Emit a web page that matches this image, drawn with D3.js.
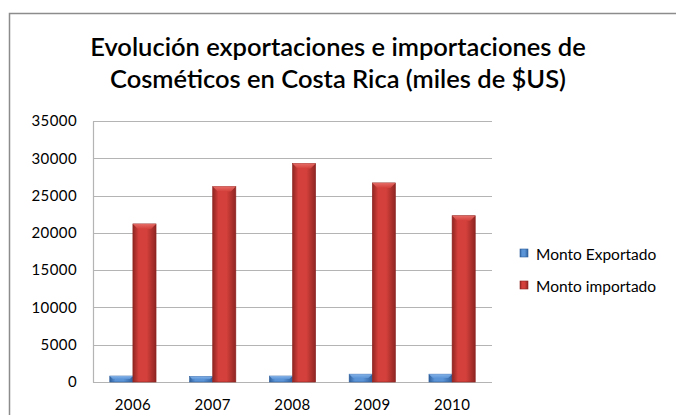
<!DOCTYPE html>
<html>
<head>
<meta charset="utf-8">
<style>
  body { margin: 0; background: #fff; }
  svg text { font-family: Lato, "Open Sans", sans-serif; fill: #000; }
</style>
<title>Cosméticos Costa Rica</title>
</head>
<body>
<script src="https://cdn.jsdelivr.net/npm/d3@7/dist/d3.min.js"></script>
<script>
  // data
  var years = ["2006", "2007", "2008", "2009", "2010"];
  var series = ["Monto Exportado", "Monto importado"];
  var exportado = [800, 750, 800, 1050, 1050];
  var importado = [21200, 26200, 29300, 26700, 22300];
  var yTicks = [0, 5000, 10000, 15000, 20000, 25000, 30000, 35000];
  var titleLines = ["Evolución exportaciones e importaciones de", "Cosméticos en Costa Rica (miles de $US)"];

  var width = 676, height = 415;
  var plot = {left: 93, right: 492, top: 121, bottom: 382};

  var svg = d3.select("body").append("svg")
    .attr("width", width)
    .attr("height", height);

  // gradients for the bevelled bars
  var defs = svg.append("defs");
  var colors = [
    {id: "g0", dark: "#2f5f9c", mid: "#5b95d8", light: "#8ab6ea"},
    {id: "g1", dark: "#8e2522", mid: "#d4403b", light: "#e8706b"}
  ];
  colors.forEach(function (c) {
    var g = defs.append("linearGradient").attr("id", c.id).attr("x1", 0).attr("x2", 1).attr("y1", 0).attr("y2", 0);
    g.append("stop").attr("offset", "0%").attr("stop-color", c.dark);
    g.append("stop").attr("offset", "25%").attr("stop-color", c.mid);
    g.append("stop").attr("offset", "60%").attr("stop-color", c.mid);
    g.append("stop").attr("offset", "100%").attr("stop-color", c.dark);
    var t = defs.append("linearGradient").attr("id", c.id + "top").attr("x1", 0).attr("x2", 0).attr("y1", 0).attr("y2", 1);
    t.append("stop").attr("offset", "0%").attr("stop-color", c.light);
    t.append("stop").attr("offset", "100%").attr("stop-color", c.mid);
  });

  // outer chart frame
  svg.append("rect")
    .attr("x", 9.5).attr("y", 13.5)
    .attr("width", 700).attr("height", 450)
    .attr("fill", "#fff").attr("stroke", "#8c8c8c").attr("stroke-width", 1.5);

  // title
  svg.append("g").selectAll("text")
    .data(titleLines)
    .enter().append("text")
    .attr("x", 338)
    .attr("y", function (d, i) { return 56 + i * 32; })
    .attr("text-anchor", "middle")
    .style("font-size", "25.5px")
    .style("font-weight", "600")
    .text(function (d) { return d; });

  var x0 = d3.scaleBand().domain(years).range([plot.left, plot.right]).paddingInner(0.42).paddingOuter(0.21);
  var x1 = d3.scaleBand().domain(series).range([0, x0.bandwidth()]);
  var y = d3.scaleLinear().domain([0, 35000]).range([plot.bottom, plot.top]);

  // gridlines
  svg.append("g").selectAll("line")
    .data(yTicks)
    .enter().append("line")
    .attr("x1", plot.left).attr("x2", plot.right)
    .attr("y1", function (d) { return Math.round(y(d)) + 0.5; })
    .attr("y2", function (d) { return Math.round(y(d)) + 0.5; })
    .attr("stroke", "#b4b4b4").attr("stroke-width", 1.2);

  // y axis
  var yAxis = svg.append("g")
    .attr("transform", "translate(" + plot.left + ",0)")
    .call(d3.axisLeft(y).tickValues(yTicks).tickFormat(d3.format("d")).tickSize(0).tickPadding(16));
  yAxis.select(".domain").attr("stroke", "#b4b4b4").attr("stroke-width", 1.2);
  yAxis.selectAll("text").style("font-size", "15px").style("letter-spacing", "0.4px")
    .attr("fill", "#000").style("font-family", "Lato, sans-serif");

  // x axis labels (the reference crops them at the bottom edge; keep them just inside)
  var xAxis = svg.append("g")
    .attr("transform", "translate(0," + plot.bottom + ")")
    .call(d3.axisBottom(x0).tickSize(0).tickPadding(17));
  xAxis.select(".domain").remove();
  xAxis.selectAll("text").style("font-size", "15px").style("letter-spacing", "0.4px")
    .attr("fill", "#000").style("font-family", "Lato, sans-serif");

  // bars
  var rows = years.map(function (yr, i) {
    return {year: yr, vals: [exportado[i], importado[i]]};
  });
  var groups = svg.append("g").selectAll("g")
    .data(rows)
    .enter().append("g")
    .attr("transform", function (d) { return "translate(" + x0(d.year) + ",0)"; });

  groups.selectAll("rect")
    .data(function (d) { return d.vals.map(function (v, k) { return {k: k, v: v}; }); })
    .enter().append("rect")
    .attr("x", function (d) { return x1(series[d.k]); })
    .attr("y", function (d) { return y(d.v); })
    .attr("width", x1.bandwidth())
    .attr("height", function (d) { return y(0) - y(d.v); })
    .attr("fill", function (d) { return "url(#g" + d.k + ")"; })
    .attr("stroke", function (d) { return colors[d.k].dark; })
    .attr("stroke-width", 0.6);

  // bevelled top caps
  groups.selectAll("path")
    .data(function (d) { return d.vals.map(function (v, k) { return {k: k, v: v}; }); })
    .enter().append("path")
    .attr("d", function (d) {
      var xa = x1(series[d.k]), w = x1.bandwidth(), yt = y(d.v);
      var b = Math.min(5, (y(0) - yt) / 2);
      return "M" + xa + "," + yt + "L" + (xa + w) + "," + yt + "L" + (xa + w - b) + "," + (yt + b) +
        "L" + (xa + b) + "," + (yt + b) + "Z";
    })
    .attr("fill", function (d) { return "url(#g" + d.k + "top)"; })
    .attr("opacity", 0.9);

  // legend
  var legend = svg.append("g").selectAll("g")
    .data(series)
    .enter().append("g")
    .attr("transform", function (d, i) { return "translate(520," + (249 + i * 32) + ")"; });
  legend.append("rect")
    .attr("width", 8).attr("height", 8)
    .attr("fill", function (d, i) { return "url(#g" + i + ")"; })
    .attr("stroke", function (d, i) { return colors[i].dark; })
    .attr("stroke-width", 0.6);
  legend.append("text")
    .attr("x", 16).attr("y", 11)
    .style("font-size", "15.5px")
    .text(function (d) { return d; });
</script>
</body>
</html>
